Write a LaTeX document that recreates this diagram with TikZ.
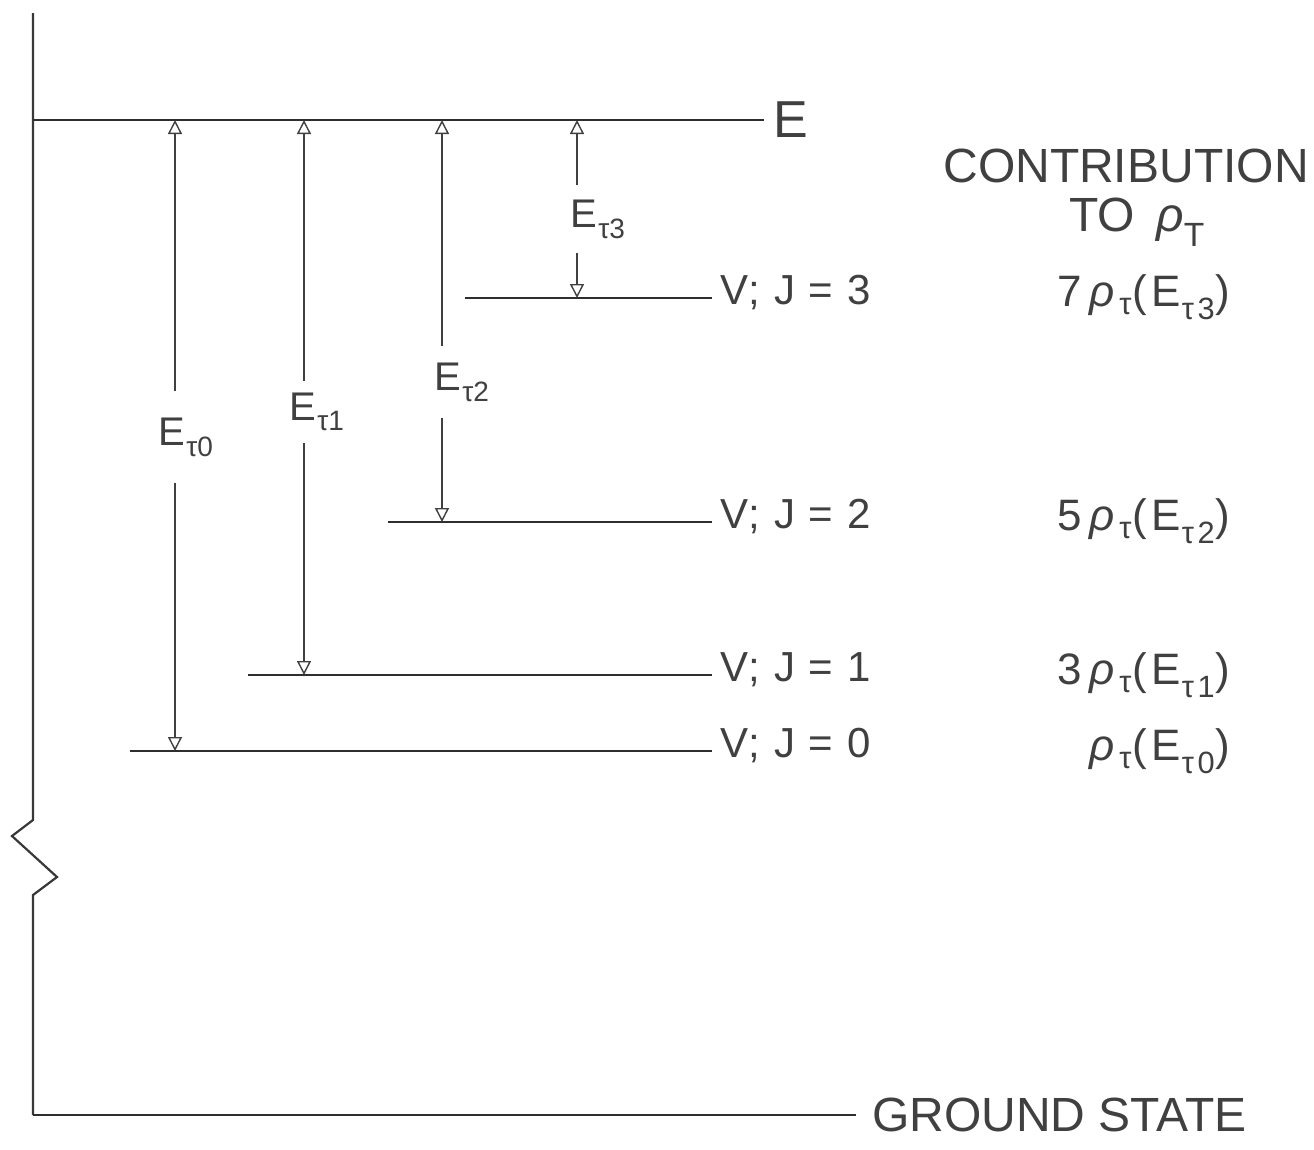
\documentclass[tikz,border=0pt]{standalone}
\usepackage{fontspec}
\setmainfont{Liberation Sans}
\newfontfamily\leroyV[LetterSpace=5]{Liberation Sans}
\newfontfamily\leroyR[LetterSpace=11]{Liberation Sans}
\usetikzlibrary{arrows.meta}
\newcommand\Etau[1]{E\kern1pt\textsubscript{τ#1}}
\begin{document}
\begin{tikzpicture}[x=1pt,y=-1pt,
  axis/.style={line width=2.2pt, draw=black!78},
  lvl/.style={line width=2.8pt, draw=black!82},
  earrow/.style={line width=1.6pt, draw=black!75,
    -{Triangle[open,length=14pt,width=14pt,line width=1.4pt]}},
  txt/.style={text=black!75, inner sep=0pt},
  big/.style={txt, font=\fontsize{48}{56}\selectfont},
  mid/.style={txt, font=\leroyV\fontsize{42}{50}\selectfont},
  elab/.style={txt, font=\fontsize{40}{48}\selectfont, inner ysep=12pt},
  rlab/.style={txt, font=\leroyR\fontsize{44}{52}\selectfont}]
\useasboundingbox (0,0) rectangle (1314,1149);

% axis with break
\coordinate (axtop) at (33,13);
\coordinate (zz1) at (33,820);
\coordinate (zz2) at (12,836);
\coordinate (zz3) at (57,877);
\coordinate (zz4) at (33,895);
\coordinate (g0) at (33,1115);
\draw[axis] (axtop) -- (zz1) -- (zz2) -- (zz3) -- (zz4) -- (g0);

% ground state
\node[big, anchor=west] (gs) at (872,1115) {GROUND STATE};
\draw[lvl] (g0) -- ([xshift=-16pt]gs.west);

% top level E
\coordinate (e0) at (33,120);
\node[txt, font=\fontsize{52}{60}\selectfont, anchor=west] (E) at (773,120) {E};
\draw[lvl] (e0) -- ([xshift=-9pt]E.west);

% levels
\coordinate (j3) at (465,298);
\coordinate (j2) at (388,522);
\coordinate (j1) at (248,675);
\coordinate (j0) at (130,751);
\node[mid, anchor=mid west] (v3) at (720,302) {V; J = 3};
\node[mid, anchor=mid west] (v2) at (720,526) {V; J = 2};
\node[mid, anchor=mid west] (v1) at (720,679) {V; J = 1};
\node[mid, anchor=mid west] (v0) at (720,755) {V; J = 0};
\draw[lvl] (j3) -- ([xshift=-8pt]j3 -| v3.west);
\draw[lvl] (j2) -- ([xshift=-8pt]j2 -| v2.west);
\draw[lvl] (j1) -- ([xshift=-8pt]j1 -| v1.west);
\draw[lvl] (j0) -- ([xshift=-8pt]j0 -| v0.west);

% energy arrows
\coordinate (t0) at (175,120); \coordinate (b0) at (175,751);
\coordinate (t1) at (304,120); \coordinate (b1) at (304,675);
\coordinate (t2) at (442,120); \coordinate (b2) at (442,522);
\coordinate (t3) at (577,120); \coordinate (b3) at (577,298);
\node[elab, inner ysep=26pt] (l0) at (186,437) {\Etau{0}};
\node[elab] (l1) at (317,412) {\Etau{1}};
\node[elab, inner ysep=16pt] (l2) at (462,382) {\Etau{2}};
\node[elab, inner ysep=14pt] (l3) at (598,219) {\Etau{3}};
\draw[earrow] (t0 |- l0.north) -- (t0);
\draw[earrow] (t0 |- l0.south) -- (b0);
\draw[earrow] (t1 |- l1.north) -- (t1);
\draw[earrow] (t1 |- l1.south) -- (b1);
\draw[earrow] (t2 |- l2.north) -- (t2);
\draw[earrow] (t2 |- l2.south) -- (b2);
\draw[earrow] (t3 |- l3.north) -- (t3);
\draw[earrow] (t3 |- l3.south) -- (b3);

% contribution column
\node[big] (c1) at (1126,166) {CONTRIBUTION};
\node[big] (c2) at (1137,222) {TO\hspace{0.45em}\textit{ρ}\textsubscript{T}};
\node[rlab, anchor=mid east] (r3) at (1230,304) {7\,\textit{ρ}\textsubscript{τ}(\Etau{3})};
\node[rlab, anchor=mid east] (r2) at (1230,528) {5\,\textit{ρ}\textsubscript{τ}(\Etau{2})};
\node[rlab, anchor=mid east] (r1) at (1230,682) {3\,\textit{ρ}\textsubscript{τ}(\Etau{1})};
\node[rlab, anchor=mid east] (r0) at (1230,758) {\textit{ρ}\textsubscript{τ}(\Etau{0})};
\end{tikzpicture}
\end{document}
